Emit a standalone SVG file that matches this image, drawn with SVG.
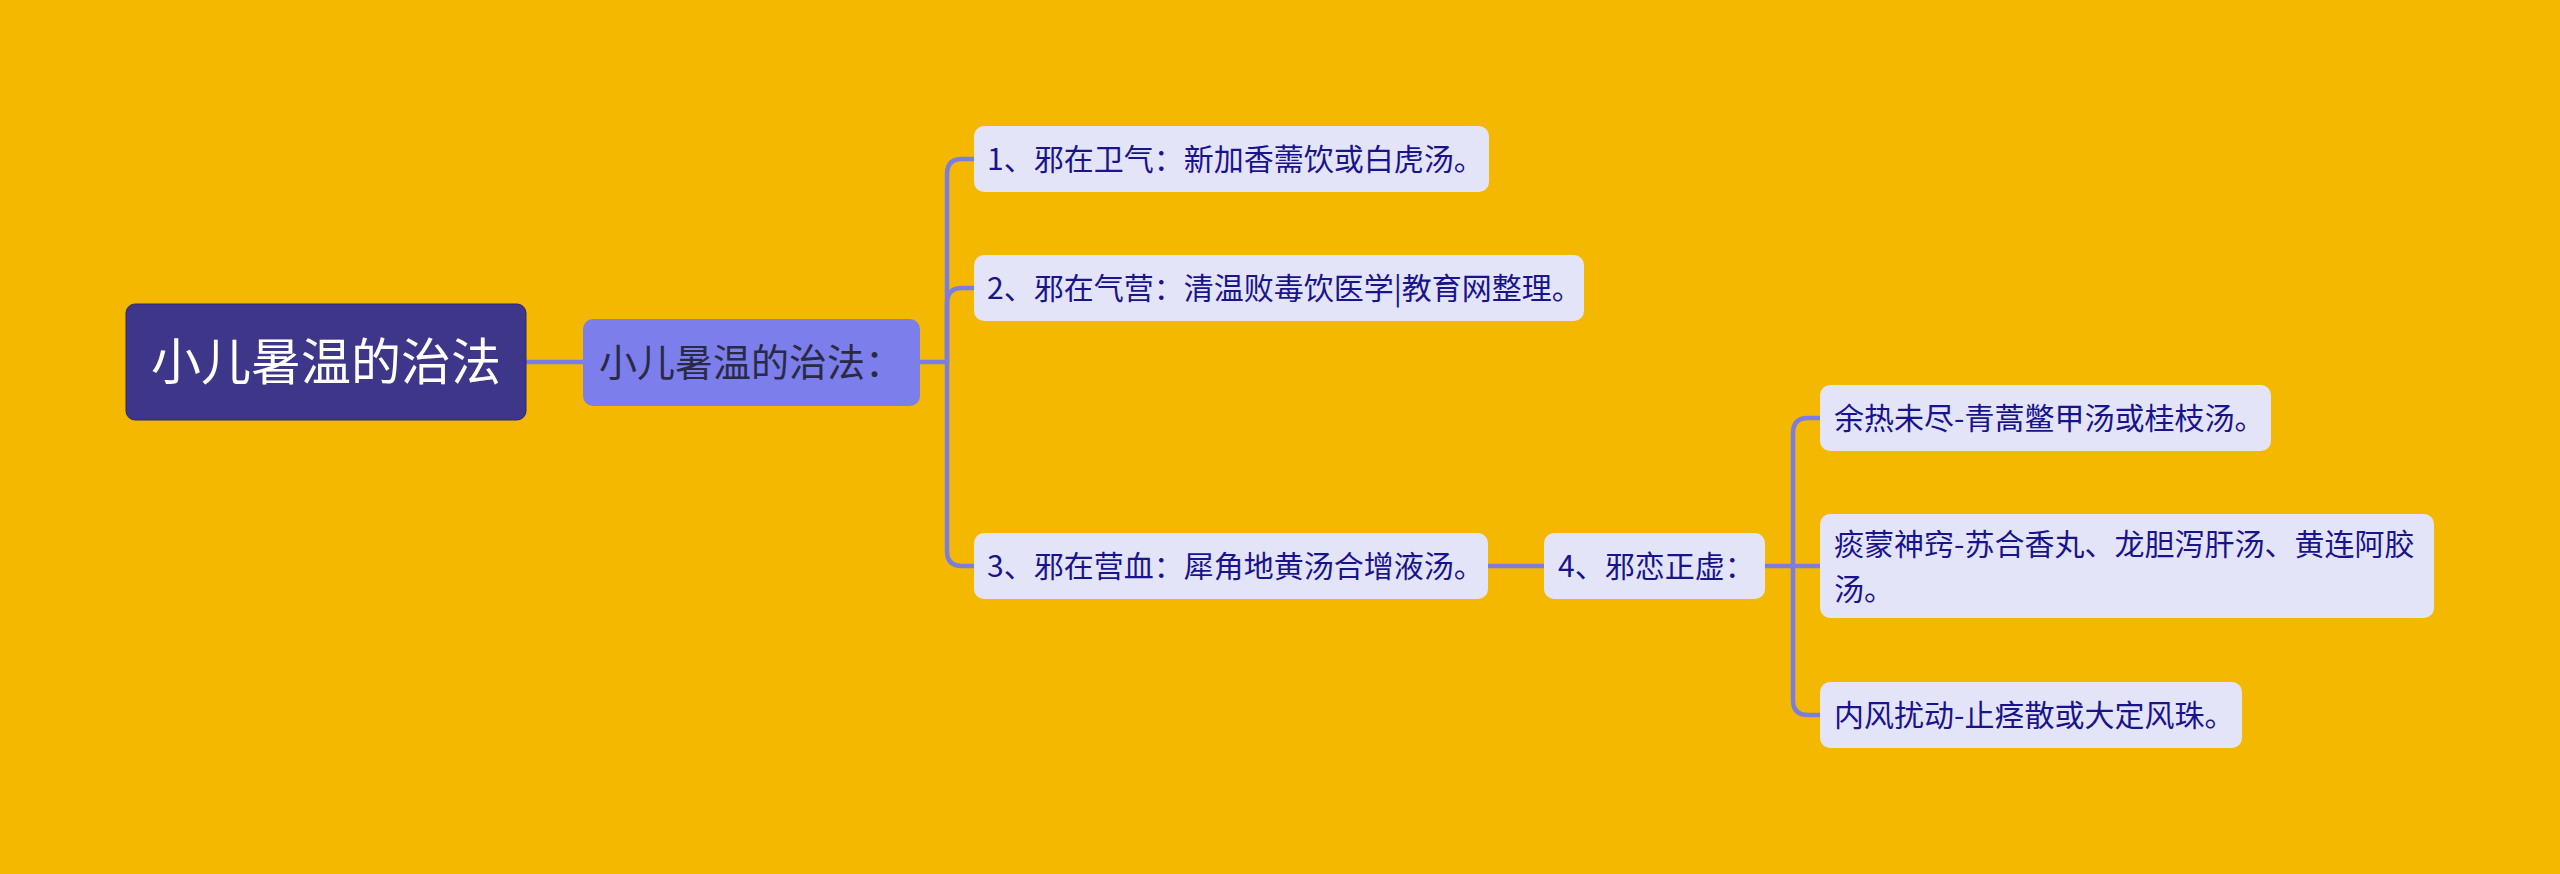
<svg xmlns="http://www.w3.org/2000/svg" width="2560" height="874" viewBox="0 0 2560 874">
<style>
.bg{fill:#F5B800}
.edge{fill:none;stroke:#7B7EE0;stroke-width:4.5;stroke-linecap:round}
.root rect{fill:#3E3789;stroke:#2E2870;stroke-width:1}
.root text{fill:#FFFFFF;font-size:50px}
.l1 rect{fill:#7B7EEB}
.l1 text{fill:#2A2A44;font-size:38px}
.leaf rect{fill:#E4E4F8}
.leaf text{fill:#19148C;font-size:30px}
text{font-family:"Noto Sans CJK SC","Noto Sans",sans-serif}
</style>
<rect class="bg" x="0" y="0" width="2560" height="874"/>
<g id="connectors">
<path class="edge" d="M526 362 H583"/>
<path class="edge" d="M920 362 H947"/>
<path class="edge" d="M947 362 V174 Q947 159 962 159 H974"/>
<path class="edge" d="M947 362 V303 Q947 288 962 288 H974"/>
<path class="edge" d="M947 362 V551 Q947 566 962 566 H974"/>
<path class="edge" d="M1488 566 H1544"/>
<path class="edge" d="M1765 566 H1793"/>
<path class="edge" d="M1793 566 V433 Q1793 418 1808 418 H1820"/>
<path class="edge" d="M1793 566 H1820"/>
<path class="edge" d="M1793 566 V700 Q1793 715 1808 715 H1820"/>
</g>
<g id="root" class="root">
<rect x="126" y="304" width="400" height="116" rx="9"/>
<text x="326" y="380" text-anchor="middle">小儿暑温的治法</text>
</g>
<g id="n-main" class="l1">
<rect x="583" y="319" width="337" height="87" rx="10"/>
<text x="599" y="376">小儿暑温的治法：</text>
</g>
<g id="n1" class="leaf">
<rect x="974" y="126" width="515" height="66" rx="10"/>
<text x="987" y="169.5">1、邪在卫气：新加香薷饮或白虎汤。</text>
</g>
<g id="n2" class="leaf">
<rect x="974" y="255" width="610" height="66" rx="10"/>
<text x="987" y="298.5">2、邪在气营：清温败毒饮医学|教育网整理。</text>
</g>
<g id="n3" class="leaf">
<rect x="974" y="533" width="514" height="66" rx="10"/>
<text x="987" y="576.5">3、邪在营血：犀角地黄汤合增液汤。</text>
</g>
<g id="n4" class="leaf">
<rect x="1544" y="533" width="221" height="66" rx="10"/>
<text x="1558" y="576.5">4、邪恋正虚：</text>
</g>
<g id="n4a" class="leaf">
<rect x="1820" y="385" width="451" height="66" rx="10"/>
<text x="1834" y="428.5">余热未尽-青蒿鳖甲汤或桂枝汤。</text>
</g>
<g id="n4b" class="leaf">
<rect x="1820" y="514" width="614" height="104" rx="10"/>
<text x="1834" y="555"><tspan x="1834" y="555">痰蒙神窍-苏合香丸、龙胆泻肝汤、黄连阿胶</tspan><tspan x="1834" y="599.5">汤。</tspan></text>
</g>
<g id="n4c" class="leaf">
<rect x="1820" y="682" width="422" height="66" rx="10"/>
<text x="1834" y="725.5">内风扰动-止痉散或大定风珠。</text>
</g>
</svg>
